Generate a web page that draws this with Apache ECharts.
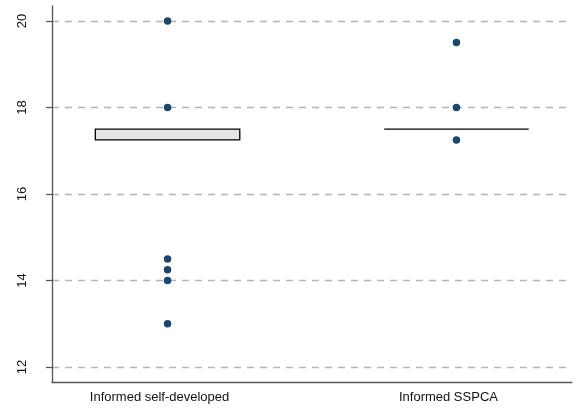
<!DOCTYPE html>
<html>
<head>
<meta charset="utf-8">
<script src="https://cdn.jsdelivr.net/npm/echarts@6/dist/echarts.min.js"></script>
<style>html,body{margin:0;padding:0;background:#fff}#c{width:581px;height:408px}</style>
</head>
<body>
<div id="c"></div>
<script>
const categories = ["Informed self-developed", "Informed SSPCA"];
const boxLower = [17.25, 17.5];
const boxUpper = [17.5, 17.5];
const pointsSelfDeveloped = [20, 18, 14.5, 14.25, 14, 13];
const pointsSSPCA = [19.5, 18, 17.25];
const yTicks = [12, 14, 16, 18, 20];

const groupPoints = [pointsSelfDeveloped, pointsSSPCA];
const positions = categories.map((c, i) => i + 1);
const boxData = positions.map((p, i) => [p, boxLower[i], boxUpper[i]]);
const scatterData = [];
groupPoints.forEach((pts, i) => pts.forEach(v => scatterData.push([positions[i], v])));

const FONT = "'Liberation Sans', Arial, sans-serif";
const chart = echarts.init(document.getElementById('c'), null, {renderer: 'canvas'});
chart.setOption({
  animation: false,
  backgroundColor: '#fff',
  grid: {left: 52, right: 9, top: 6, bottom: 26, containLabel: false},
  xAxis: {
    type: 'value', min: 0.6, max: 2.4,
    axisLine: {show: true, onZero: false, lineStyle: {color: '#555', width: 1.3}},
    axisTick: {show: false},
    splitLine: {show: false},
    axisLabel: {
      customValues: positions,
      formatter: v => categories[Math.round(v) - 1] || '',
      margin: 9, padding: [0, 16, 0, 0], color: '#111', fontSize: 13, fontFamily: FONT
    }
  },
  yAxis: {
    type: 'value', min: 11.654, max: 20.346,
    axisLine: {show: true, lineStyle: {color: '#555', width: 1.3}},
    axisTick: {show: true, customValues: yTicks, length: 6, lineStyle: {color: '#555', width: 1.2}},
    splitLine: {show: true, lineStyle: {color: '#b4b4b4', width: 1.4, type: [7, 6]}},
    axisLabel: {
      customValues: yTicks, rotate: 90, margin: 23,
      color: '#111', fontSize: 13, fontFamily: FONT
    }
  },
  series: [
    {
      type: 'custom',
      data: boxData,
      z: 3,
      renderItem: function (params, api) {
        const x = api.value(0), lo = api.value(1), hi = api.value(2);
        const p1 = api.coord([x - 0.25, hi]);
        const p2 = api.coord([x + 0.25, lo]);
        if (hi > lo) {
          return {
            type: 'rect',
            shape: {x: p1[0], y: p1[1], width: p2[0] - p1[0], height: p2[1] - p1[1]},
            style: {fill: '#e5e5e5', stroke: '#000', lineWidth: 1.3}
          };
        }
        return {
          type: 'line',
          shape: {x1: p1[0], y1: p1[1], x2: p2[0], y2: p1[1]},
          style: {stroke: '#000', lineWidth: 1.3}
        };
      }
    },
    {
      type: 'scatter',
      data: scatterData,
      z: 4,
      symbol: 'circle',
      symbolSize: 7.5,
      itemStyle: {color: '#1a476f', opacity: 1}
    }
  ]
});
</script>
</body>
</html>
